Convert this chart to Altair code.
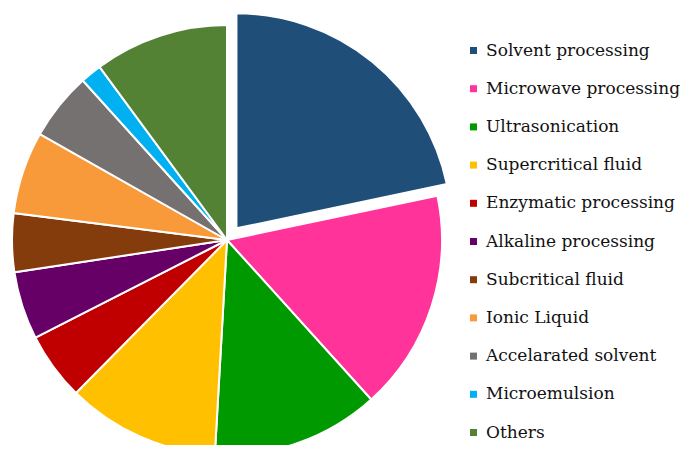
import altair as alt
import pandas as pd
import math

categories = ["Solvent processing", "Microwave processing", "Ultrasonication",
              "Supercritical fluid", "Enzymatic processing", "Alkaline processing",
              "Subcritical fluid", "Ionic Liquid", "Accelarated solvent",
              "Microemulsion", "Others"]
shares = [21.7, 16.6, 12.6, 11.5, 5.1, 5.1, 4.4, 6.2, 5.1, 1.6, 10.1]
exploded = [1, 0, 0, 0, 0, 0, 0, 0, 0, 0, 0]
colors = ["#1F4E79", "#FF3399", "#009900", "#FFC000", "#C00000", "#660066",
          "#843C0C", "#F89A3A", "#767171", "#00B0F0", "#548235"]

df = pd.DataFrame({"category": categories, "share": shares,
                   "explode": exploded, "order": list(range(len(categories)))})

CX, CY, R, GAP = 219, 232, 215, 15
W, H = 675, 437

chart = alt.Chart(df).transform_window(
    cum="sum(share)", sort=[alt.SortField("order")], frame=[None, 0]
).transform_joinaggregate(
    total="sum(share)"
).transform_calculate(
    start="(datum.cum - datum.share) / datum.total * 100",
    end="datum.cum / datum.total * 100",
).transform_calculate(
    mid=f"(datum.start + datum.end) / 100 * PI",
).transform_calculate(
    cx=f"{CX} + datum.explode * {GAP} * sin(datum.mid)",
    cy=f"{CY} - datum.explode * {GAP} * cos(datum.mid)",
).mark_arc(stroke="white", strokeWidth=2, outerRadius=R).encode(
    theta=alt.Theta("start:Q", scale=alt.Scale(domain=[0, 100], range=[0, 2 * math.pi])),
    theta2="end:Q",
    x=alt.X("cx:Q", scale=None),
    y=alt.Y("cy:Q", scale=None),
    color=alt.Color("category:N", sort=categories,
                    scale=alt.Scale(domain=categories, range=colors),
                    legend=alt.Legend(orient="none", legendX=457, legendY=34,
                                      title=None, symbolType="square", symbolSize=49,
                                      symbolStrokeWidth=0,
                                      labelFontSize=17, labelColor="#111111",
                                      rowPadding=20.2, padding=0, labelOffset=4,
                                      labelLimit=300)),
    order=alt.Order("order:Q"),
).properties(width=W, height=H, padding=0, autosize="none")

chart = chart.configure(font="DejaVu Serif").configure_legend(
    labelFont="DejaVu Serif"
).configure_view(stroke=None)
chart.save("out.html", embed_options={"renderer": "svg", "actions": False})
